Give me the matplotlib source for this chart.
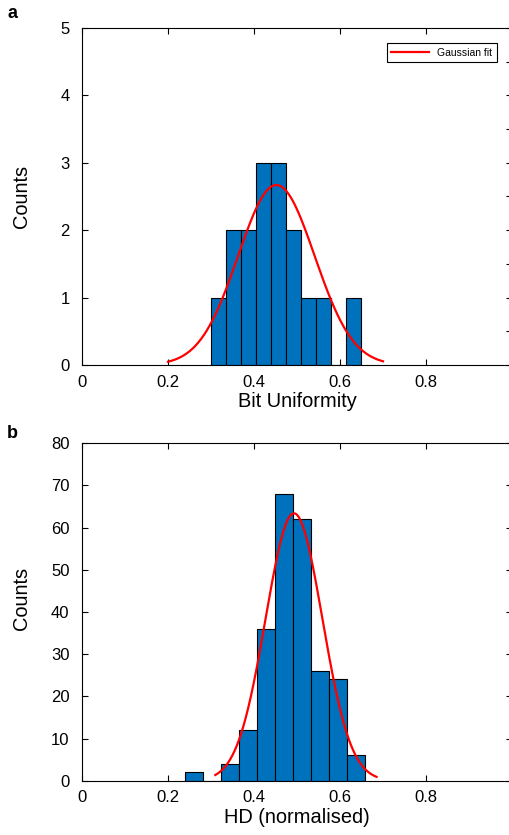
import numpy as np
import matplotlib.pyplot as plt
from matplotlib.ticker import MultipleLocator

plt.rcParams['font.family'] = ['Liberation Sans', 'DejaVu Sans']

# panel a: bit uniformity histogram
bu_start = 0.3007
bu_width = 0.0349
bu_counts = [1, 2, 2, 3, 3, 2, 1, 1, 0, 1]
bu_fit_mean, bu_fit_sigma, bu_fit_amp = 0.452, 0.089, 2.67
bu_fit_range = (0.2, 0.7)

# panel b: normalised Hamming distance histogram
hd_start = 0.2402
hd_width = 0.0419
hd_counts = [2, 0, 4, 12, 36, 68, 62, 26, 24, 6]
hd_fit_mean, hd_fit_sigma, hd_fit_amp = 0.493, 0.066, 63.4
hd_fit_range = (0.31, 0.685)

bar_color = '#0072BD'

fig = plt.figure(figsize=(5.1, 8.35), dpi=100)
ax1 = fig.add_axes([0.1608, 0.5629, 0.8431, 0.4036])
ax2 = fig.add_axes([0.1608, 0.0650, 0.8431, 0.4041])


def gauss(x, a, m, s):
    return a * np.exp(-(x - m) ** 2 / (2 * s ** 2))


def draw(ax, start, width, counts, fit, rng, ymax, ystep):
    lefts = start + width * np.arange(len(counts))
    ax.bar(lefts, counts, width=width, align='edge', color=bar_color,
           edgecolor='black', linewidth=0.8, zorder=2)
    xs = np.linspace(rng[0], rng[1], 300)
    line, = ax.plot(xs, gauss(xs, *fit), color='red', lw=1.6, zorder=3)
    ax.set_xlim(0, 1)
    ax.set_ylim(0, ymax)
    ax.set_xticks([0, 0.2, 0.4, 0.6, 0.8, 1])
    ax.set_xticklabels(['0', '0.2', '0.4', '0.6', '0.8', '1'])
    ax.yaxis.set_major_locator(MultipleLocator(ystep))
    ax.tick_params(direction='in', top=True, right=True, length=4,
                   width=0.8, labelsize=12)
    ax.tick_params(axis='x', pad=7)
    ax.tick_params(axis='y', pad=9)
    for sp in ax.spines.values():
        sp.set_linewidth(0.8)
    ax.set_ylabel('Counts', fontsize=14.4)
    return line


line = draw(ax1, bu_start, bu_width, bu_counts,
            (bu_fit_amp, bu_fit_mean, bu_fit_sigma), bu_fit_range, 5, 1)
ax1.yaxis.set_minor_locator(MultipleLocator(0.5))
ax1.tick_params(which='minor', direction='in', left=False, right=True,
                length=4, width=0.8)
ax1.set_xlabel('Bit Uniformity', fontsize=14.4, labelpad=2)
ax1.yaxis.set_label_coords(-0.118, 0.5)
leg = ax1.legend([line], ['Gaussian fit'], loc='upper right',
                 bbox_to_anchor=(0.977, 0.971), fontsize=7.5, fancybox=False,
                 handlelength=3.6, borderpad=0.45, framealpha=1)
leg.get_frame().set_edgecolor('black')
leg.get_frame().set_linewidth(0.8)

draw(ax2, hd_start, hd_width, hd_counts,
     (hd_fit_amp, hd_fit_mean, hd_fit_sigma), hd_fit_range, 80, 10)
ax2.set_xlabel('HD (normalised)', fontsize=14.4, labelpad=2)
ax2.yaxis.set_label_coords(-0.118, 0.54)

fig.text(0.025, 0.984, 'a', fontsize=13, fontweight='bold', va='center', ha='center')
fig.text(0.025, 0.481, 'b', fontsize=13, fontweight='bold', va='center', ha='center')

fig.savefig('out.png', dpi=100)
